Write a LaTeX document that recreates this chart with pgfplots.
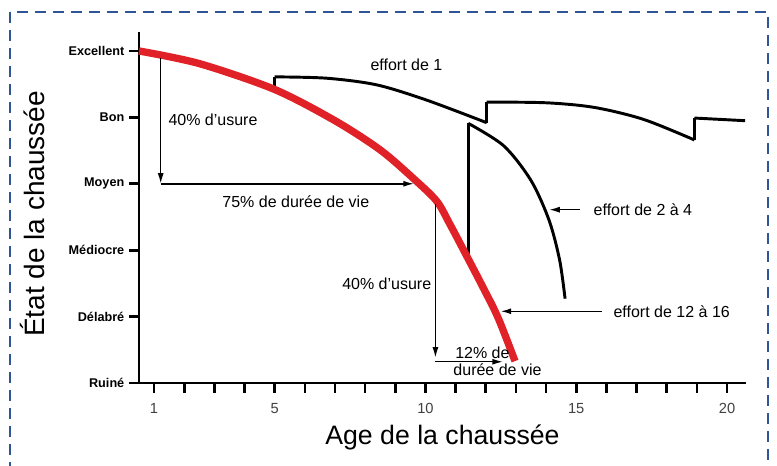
\documentclass[border=0pt]{standalone}
\usepackage{pgfplots}
\pgfplotsset{compat=1.18}
\usepackage{fontspec}
\setmainfont{Liberation Sans}
\usetikzlibrary{arrows.meta}
\definecolor{pavred}{RGB}{224,34,40}
\definecolor{frameblue}{RGB}{47,85,151}
\begin{document}
\begin{tikzpicture}[x=0.75pt,y=0.75pt]
\useasboundingbox (0,0) rectangle (777,466);
\clip (0,0) rectangle (777,466);
\draw[frameblue, line width=1.5pt, dash pattern=on 8.5pt off 5pt] (10,454) rectangle (768,-30);
\begin{axis}[
  at={(104.25pt,62.25pt)}, anchor=south west,
  scale only axis, width=455.25pt, height=263.25pt,
  xmin=0.5, xmax=20.63, ymin=0, ymax=5.286,
  axis x line*=bottom, axis y line*=left,
  axis line style={-, line width=2pt, black},
  tick align=outside, major tick length=7.5pt,
  every tick/.style={black, line width=2pt},
  xtick={1,...,20},
  xticklabels={1,,,,5,,,,,10,,,,,15,,,,,20},
  ytick={0,1,2,3,4,5},
  yticklabels={Ruiné,Délabré,Médiocre,Moyen,Bon,Excellent},
  yticklabel style={font=\fontsize{9.5}{11}\selectfont\bfseries, black},
  xticklabel style={font=\fontsize{11}{13}\selectfont, black!75, yshift=-4pt},
  /pgf/number format/assume math mode=true,
  xlabel={Age de la chaussée},
  ylabel={État de la chaussée},
  xlabel style={font=\fontsize{20}{24}\selectfont, at={(axis description cs:0.5,-0.154)}, anchor=center},
  ylabel style={font=\fontsize{21}{25}\selectfont, at={(axis description cs:-0.175,0.482)}, anchor=center},
  clip=false,
]
% effort de 1
\addplot[black, line width=2.2pt] coordinates {(5.0,4.46) (5.0,4.61)};
\addplot[black, line width=2.2pt, smooth] coordinates {
 (5.0,4.61) (6.72,4.59) (8.38,4.49) (10.04,4.26) (12.03,3.92)
};
\addplot[black, line width=2.2pt] coordinates {(12.03,3.92) (12.03,4.23)};
\addplot[black, line width=2.2pt, smooth] coordinates {
 (12.03,4.23) (14.0,4.22) (15.6,4.15) (17.23,3.97) (18.92,3.66)
};
\addplot[black, line width=2.2pt] coordinates {(18.92,3.66) (18.92,3.99)};
\addplot[black, line width=2.2pt] coordinates {(18.92,3.99) (20.6,3.95)};
% effort de 2 a 4
\addplot[black, line width=2.2pt] coordinates {(11.42,1.90) (11.42,3.91)};
\addplot[black, line width=2.2pt, smooth] coordinates {
 (11.42,3.91) (12.6,3.57) (13.5,3.05) (14.1,2.45) (14.45,1.85) (14.63,1.27)
};
% red curve (effort de 12 a 16)
\addplot[pavred, line width=5.5pt, smooth, tension=0.5, line cap=butt] coordinates {
 (0.5,5.0) (2.5,4.81) (5.0,4.42) (7.0,3.95) (8.5,3.51) (9.6,3.08) (10.37,2.74)
 (10.8,2.40) (11.37,1.91) (11.92,1.43) (12.41,0.98) (12.97,0.33)
};
% arrows
\addplot[black, line width=1.1pt, -{Latex[length=8pt,width=4.5pt]}] coordinates {(1.22,4.90) (1.22,3.0)};
\addplot[black, line width=1.1pt, -{Latex[length=8pt,width=4.5pt]}] coordinates {(1.22,3.0) (9.62,3.0)};
\addplot[black, line width=1.1pt, -{Latex[length=8pt,width=4.5pt]}] coordinates {(10.33,2.70) (10.33,0.38)};
\addplot[black, line width=1.1pt, -{Latex[length=8pt,width=4.5pt]}] coordinates {(10.33,0.32) (12.57,0.32)};
\addplot[black, line width=1.1pt, -{Latex[length=8pt,width=4.5pt]}] coordinates {(15.12,2.61) (14.10,2.61)};
\addplot[black, line width=1.1pt, -{Latex[length=8pt,width=4.5pt]}] coordinates {(15.84,1.08) (12.49,1.08)};
% labels
\node[anchor=west, font=\fontsize{12}{14}\selectfont, inner sep=0pt] at (axis cs:1.47,3.96) {40\% d’usure};
\node[anchor=center, font=\fontsize{12}{14}\selectfont, inner sep=0pt] at (axis cs:5.70,2.73) {75\% de durée de vie};
\node[anchor=center, font=\fontsize{12}{14}\selectfont, inner sep=0pt] at (axis cs:9.37,4.79) {effort de 1};
\node[anchor=east, font=\fontsize{12}{14}\selectfont, inner sep=0pt] at (axis cs:10.2,1.5) {40\% d’usure};
\node[anchor=west, font=\fontsize{12}{14}\selectfont, inner sep=0pt] at (axis cs:10.98,0.46) {12\% de};
\node[anchor=west, font=\fontsize{12}{14}\selectfont, inner sep=0pt] at (axis cs:10.92,0.20) {durée de vie};
\node[anchor=west, font=\fontsize{12}{14}\selectfont, inner sep=0pt] at (axis cs:15.57,2.61) {effort de 2 à 4};
\node[anchor=west, font=\fontsize{12}{14}\selectfont, inner sep=0pt] at (axis cs:16.23,1.08) {effort de 12 à 16};
\end{axis}
\end{tikzpicture}
\end{document}
